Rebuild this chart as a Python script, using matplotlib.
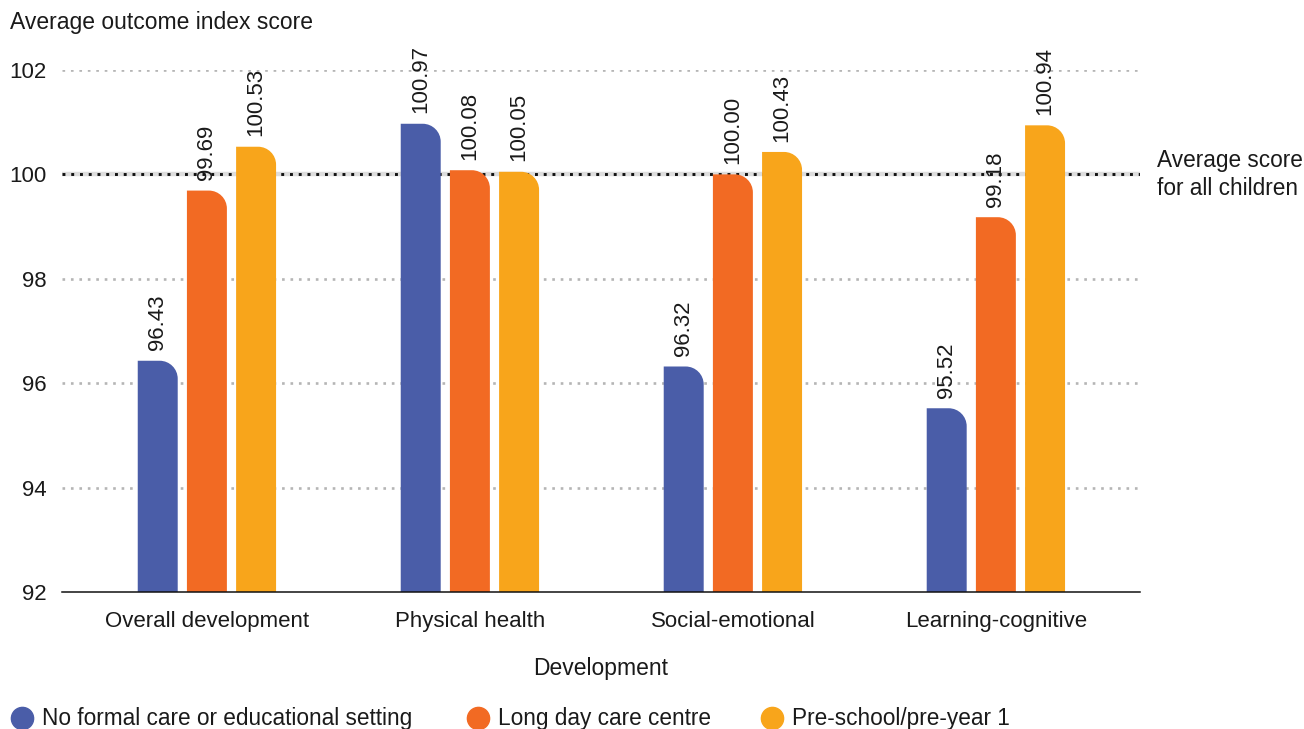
import numpy as np
import matplotlib
matplotlib.use("Agg")
import matplotlib.pyplot as plt
from matplotlib.path import Path
from matplotlib.patches import PathPatch
from matplotlib.lines import Line2D

categories = ["Overall development", "Physical health", "Social-emotional", "Learning-cognitive"]
series_names = ["No formal care or educational setting", "Long day care centre", "Pre-school/pre-year 1"]
no_formal = [96.43, 100.97, 96.32, 95.52]
long_day = [99.69, 100.08, 100.00, 99.18]
pre_school = [100.53, 100.05, 100.43, 100.94]
colors = ["#4a5da8", "#f26a23", "#f8a51b"]
yticks = [92, 94, 96, 98, 100, 102]

plt.rcParams["font.family"] = ["Liberation Sans", "DejaVu Sans"]
txt = "#1a1a1a"

fig = plt.figure(figsize=(13.04, 7.29), dpi=100)
ax = fig.add_axes([62 / 1304, 1 - 592 / 729, (1140 - 62) / 1304, (592 - 70) / 729])

ax.set_xlim(-0.551, 3.548)
ax.set_ylim(92, 102)

# gridlines
for y in yticks[1:]:
    if y == 100:
        ax.axhline(y, color="#dddddd", lw=3.2, zorder=1)
        ax.axhline(y, color="#111111", lw=2.1, ls=(0, (1, 2)), zorder=1.1)
    else:
        ax.axhline(y, color="#b5b5b5", lw=1.9, ls=(0, (1, 2.2)), zorder=1)

x = np.arange(len(categories))
w = 0.152
step = 0.187
all_series = [no_formal, long_day, pre_school]

# pixel scale for rounded corner
fig.canvas.draw()
p0 = ax.transData.transform((0, 92))
p1 = ax.transData.transform((1, 93))
px_x = p1[0] - p0[0]
px_y = p1[1] - p0[1]
r = 18
rx, ry = r / px_x, r / px_y
k = 0.5523


def rounded_bar(x0, w, bottom, top, color):
    x1 = x0 + w
    verts = [(x0, bottom), (x0, top), (x1 - rx, top),
             (x1 - rx + k * rx, top), (x1, top - ry + k * ry), (x1, top - ry),
             (x1, bottom), (x0, bottom)]
    codes = [Path.MOVETO, Path.LINETO, Path.LINETO,
             Path.CURVE4, Path.CURVE4, Path.CURVE4,
             Path.LINETO, Path.CLOSEPOLY]
    ax.add_patch(PathPatch(Path(verts, codes), facecolor=color, edgecolor="none", zorder=2))


for i, (vals, c) in enumerate(zip(all_series, colors)):
    for xi, v in zip(x, vals):
        xc = xi + (i - 1) * step
        rounded_bar(xc - w / 2, w, 92, v, c)
        ax.annotate(f"{v:.2f}", (xc, v), xytext=(0, 7.5), textcoords="offset points",
                    rotation=90, ha="center", va="bottom", fontsize=16, color=txt)

ax.set_xticks(x)
ax.set_xticklabels(categories, fontsize=16, color=txt)
ax.set_yticks(yticks)
ax.set_yticklabels([str(t) for t in yticks], fontsize=16, color=txt)
ax.tick_params(axis="both", length=0)
ax.tick_params(axis="x", pad=14)
ax.tick_params(axis="y", pad=11)
for s in ["top", "right", "left"]:
    ax.spines[s].set_visible(False)
ax.spines["bottom"].set_color("#111111")
ax.spines["bottom"].set_linewidth(1.1)

ax.set_xlabel("Development", fontsize=16.5, color=txt, labelpad=18)
fig.text(10 / 1304, 1 - 22 / 729, "Average outcome index score", fontsize=16.5,
         color=txt, ha="left", va="center")

ax.annotate("Average score\nfor all children", xy=(1, 100), xycoords=("axes fraction", "data"),
            xytext=(17, 0), textcoords="offset pixels", ha="left", va="center",
            fontsize=16.3, color=txt, linespacing=1.3)

# legend drawn along the bottom
legend_x = [22, 478, 772]
ly = 1 - 718 / 729
for px, name, c in zip(legend_x, series_names, colors):
    fig.add_artist(Line2D([px / 1304], [ly], marker="o", markersize=16, color=c, ls="",
                          transform=fig.transFigure))
    fig.text((px + 20) / 1304, ly, name, fontsize=16.3, color=txt, ha="left", va="center")

fig.savefig("out.png", dpi=100)
